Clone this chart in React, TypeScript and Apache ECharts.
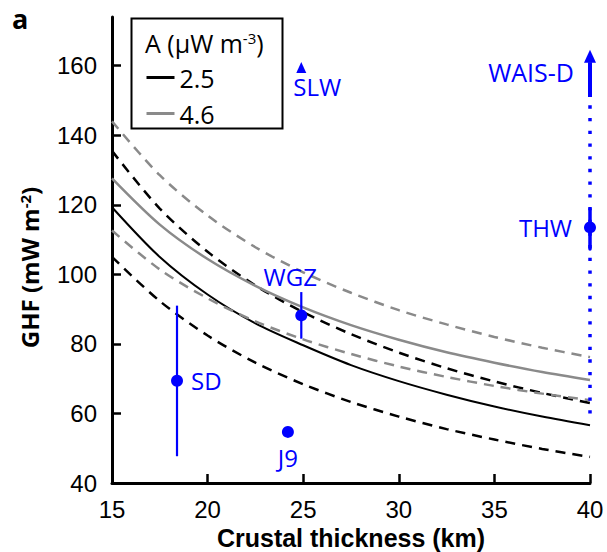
import React, { useEffect, useRef } from 'react';
import * as echarts from 'echarts';

// Crustal thickness (km) sample positions
const thickness = [15, 17.5, 20, 22.5, 25, 27.5, 30, 32.5, 35, 37.5, 40];
// GHF (mW m-2) curves
const ghfA25 = [119.3, 105.0, 94.2, 85.9, 79.6, 73.9, 69.3, 65.4, 62.0, 59.1, 56.6];
const ghfA25Upper = [135.5, 118.9, 106.5, 96.8, 89.1, 82.8, 77.5, 73.0, 69.2, 65.9, 63.0];
const ghfA25Lower = [105.0, 92.3, 82.4, 74.6, 68.4, 63.3, 59.1, 55.5, 52.5, 49.8, 47.5];
const ghfA46 = [127.6, 114.3, 104.4, 96.7, 90.5, 85.4, 81.2, 77.6, 74.6, 71.9, 69.6];
const ghfA46Upper = [144.0, 128.5, 116.9, 107.8, 100.6, 94.7, 89.7, 85.6, 82.0, 78.9, 76.2];
const ghfA46Lower = [112.6, 101.4, 93.1, 86.5, 81.3, 77.1, 73.5, 70.5, 67.9, 65.7, 63.8];

// Observation sites
const siteNames = ['SD', 'J9', 'WGZ', 'THW'];
const siteThickness = [18.4, 24.2, 24.9, 40];
const siteGhf = [69.4, 54.7, 88.2, 113.5];
const siteLow = [47.7, null, 81.5, 107.3];
const siteHigh = [91.0, null, 94.9, 118.8];

// SLW lower-bound marker
const slwThickness = 24.9;
const slwGhf = 159.5;

// WAIS-D range (dotted) and lower bound (arrow)
const waisThickness = 40;
const waisDottedRange = [60, 151];
const waisSolidRange = [151, 161];
const waisArrowGhf = 162.7;

const yTicks = [40, 60, 80, 100, 120, 140, 160];

const FONT = 'Open Sans';
const AXIS_FONT = 'Liberation Sans';
const BLUE = '#0000ff';
const GRAY = '#8a8a8a';
const LABEL_SIZE = 24;

function curve(values: number[]) {
  return thickness.map((x, i) => [x, values[i]]);
}

export default function App() {
  const ref = useRef<HTMLDivElement>(null);

  useEffect(() => {
    if (!ref.current) return;
    const chart = echarts.init(ref.current, undefined, { renderer: 'svg' });

    const curveSeries = (name: string, values: number[], color: string, dashed: boolean, width: number) => ({
      type: 'line',
      name,
      data: curve(values),
      symbol: 'none',
      showSymbol: false,
      smooth: 0.3,
      lineStyle: { color, width, type: dashed ? [10, 7] : 'solid' },
      itemStyle: { color },
      z: 2,
    });

    const errorSeries: any[] = [];
    siteNames.forEach((n, i) => {
      if (siteLow[i] != null && siteHigh[i] != null) {
        errorSeries.push({
          type: 'line',
          name: n + ' range',
          data: [
            [siteThickness[i], siteLow[i]],
            [siteThickness[i], siteHigh[i]],
          ],
          symbol: 'none',
          lineStyle: { color: BLUE, width: n === 'THW' ? 3.5 : 2.2, cap: n === 'THW' ? 'round' : 'butt' },
          z: 5,
        });
      }
    });

    const labelCfg: Record<string, any> = {
      SD: { position: 'right', distance: 8 },
      J9: { position: 'bottom', distance: 8 },
      WGZ: { position: 'top', distance: 0, offset: [-11, -21] },
      THW: { position: 'left', distance: 12 },
    };

    const option: any = {
      animation: false,
      textStyle: { fontFamily: FONT },
      grid: { left: 112, right: 17, top: 17, bottom: 69, containLabel: false, outerBoundsMode: 'none' },
      legend: {
        data: ['2.5', '4.6'],
        orient: 'vertical',
        left: 140,
        top: 60,
        padding: 5,
        itemWidth: 28,
        itemHeight: 14,
        itemGap: 11,
        lineStyle: { width: 3 },
        itemStyle: { opacity: 0 },
        textStyle: { fontSize: 25, color: '#000', fontFamily: FONT },
      },
      xAxis: {
        type: 'value',
        min: 15,
        max: 40,
        interval: 5,
        axisLine: { lineStyle: { color: '#000', width: 3 } },
        axisTick: { inside: true, length: 9, lineStyle: { color: '#000', width: 2.5 } },
        axisLabel: { color: '#000', fontSize: LABEL_SIZE, lineHeight: 22, margin: 15, fontFamily: AXIS_FONT },
        splitLine: { show: false },
        name: 'Crustal thickness (km)',
        nameLocation: 'middle',
        nameGap: 43,
        nameTextStyle: { fontSize: 25, lineHeight: 22, fontWeight: 'bold', color: '#000', fontFamily: AXIS_FONT },
      },
      yAxis: {
        type: 'value',
        min: 40,
        max: 174,
        interval: 20,
        axisLine: { show: true, lineStyle: { color: '#000', width: 3 } },
        axisTick: { show: true, inside: true, length: 9, customValues: yTicks, lineStyle: { color: '#000', width: 2.5 } },
        axisLabel: { color: '#000', fontSize: LABEL_SIZE, margin: 15, fontFamily: AXIS_FONT, customValues: yTicks },
        splitLine: { show: false },
      },
      graphic: [
        {
          type: 'text',
          left: 12,
          top: 5,
          style: { text: 'a', font: `bold 27px "${FONT}"`, fill: '#000' },
        },
        {
          type: 'rect',
          shape: { x: 131.5, y: 18.5, width: 151, height: 110 },
          style: { fill: 'none', stroke: '#000', lineWidth: 2 },
          z: 10,
        },
        {
          type: 'text',
          x: 145,
          y: 43,
          style: {
            text: '{a|A (μW m}{s|-3}{a|)}',
            verticalAlign: 'middle',
            rich: {
              a: { fontSize: 25, fontFamily: FONT, fill: '#000' },
              s: { fontSize: 15, fontFamily: FONT, fill: '#000', verticalAlign: 'top' },
            },
          },
          z: 10,
        },
        {
          type: 'text',
          x: 29.5,
          y: 267.5,
          rotation: Math.PI / 2,
          style: {
            text: '{a|GHF (mW m}{s|-2}{a|)}',
            align: 'center',
            verticalAlign: 'middle',
            rich: {
              a: { fontSize: 24, fontFamily: FONT, fontWeight: 'bold', fill: '#000' },
              s: { fontSize: 15, fontFamily: FONT, fontWeight: 'bold', fill: '#000', verticalAlign: 'top' },
            },
          },
        },
      ],
      series: [
        curveSeries('2.5 upper', ghfA25Upper, '#000', true, 2.5),
        curveSeries('2.5 lower', ghfA25Lower, '#000', true, 2.5),
        curveSeries('2.5', ghfA25, '#000', false, 2),
        curveSeries('4.6 upper', ghfA46Upper, GRAY, true, 2.5),
        curveSeries('4.6 lower', ghfA46Lower, GRAY, true, 2.5),
        curveSeries('4.6', ghfA46, GRAY, false, 2.5),
        {
          type: 'line',
          name: 'WAIS-D range',
          data: [
            [waisThickness, waisDottedRange[0]],
            [waisThickness, waisDottedRange[1]],
          ],
          symbol: 'none',
          lineStyle: { color: BLUE, width: 3.5, type: [3.3, 9.4], cap: 'butt' },
          z: 4,
        },
        {
          type: 'line',
          name: 'WAIS-D bound',
          data: [
            [waisThickness, waisSolidRange[0]],
            [waisThickness, waisSolidRange[1]],
          ],
          symbol: 'none',
          lineStyle: { color: BLUE, width: 4 },
          z: 4,
        },
        ...errorSeries,
        {
          type: 'scatter',
          name: 'sites',
          symbol: 'circle',
          symbolSize: 12,
          itemStyle: { color: BLUE, opacity: 1 },
          z: 6,
          data: siteNames.map((n, i) => ({
            name: n,
            value: [siteThickness[i], siteGhf[i]],
            label: {
              show: true,
              formatter: n,
              color: BLUE,
              fontSize: LABEL_SIZE,
              fontFamily: FONT,
              ...labelCfg[n],
            },
          })),
        },
        {
          type: 'scatter',
          name: 'bounds',
          symbol: 'triangle',
          itemStyle: { color: BLUE, opacity: 1 },
          z: 6,
          data: [
            {
              name: 'SLW',
              value: [slwThickness, slwGhf],
              symbolSize: [10, 11],
              label: { show: true, formatter: 'SLW', position: 'bottom', distance: 2, offset: [16, 0], color: BLUE, fontSize: LABEL_SIZE, fontFamily: FONT },
            },
            {
              name: 'WAIS-D',
              value: [waisThickness, waisArrowGhf],
              symbolSize: [12, 13],
              label: { show: true, formatter: 'WAIS-D', position: 'left', distance: 10, offset: [0, 16], color: BLUE, fontSize: LABEL_SIZE + 1, fontFamily: FONT },
            },
          ],
        },
      ],
    };

    chart.setOption(option);
    return () => chart.dispose();
  }, []);

  return <div ref={ref} style={{ width: 607, height: 552, position: 'absolute', left: 0, top: 0 }} />;
}
